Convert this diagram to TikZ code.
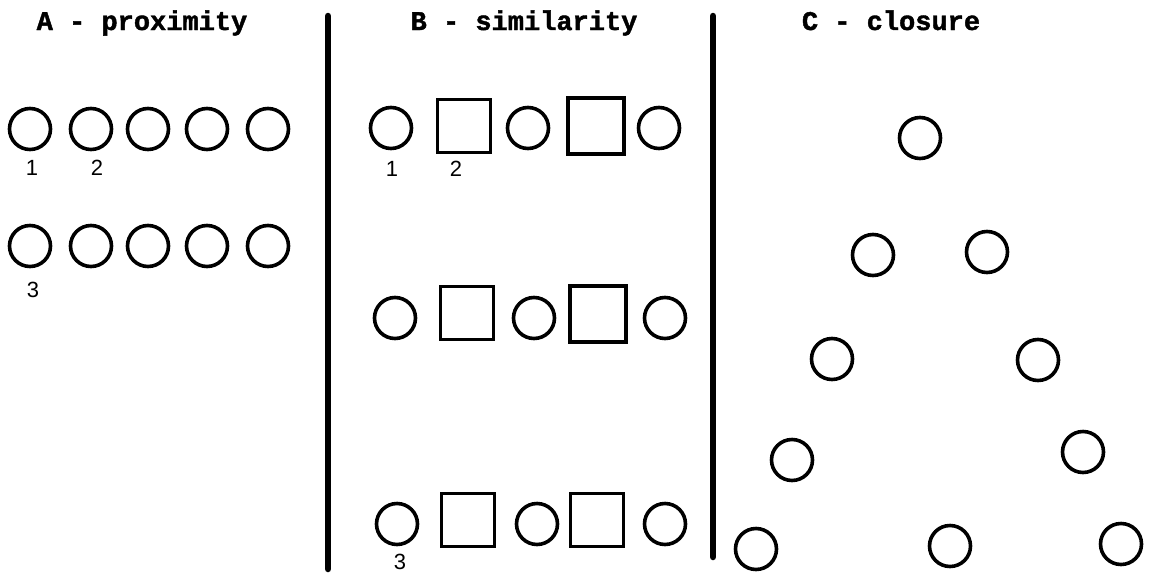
\documentclass[tikz,border=0pt]{standalone}
\usepackage{fontspec}
\newfontfamily\hdrfont{Liberation Mono}[BoldFeatures={FakeBold=1.5}]
\newfontfamily\numfont{Liberation Sans}
\begin{document}
\begin{tikzpicture}[x=1pt,y=-1pt,
  circ/.style={draw,circle,line width=3.6pt,minimum size=41pt,inner sep=0pt},
  sq/.style={draw,rectangle,line width=3.6pt,minimum size=53pt,inner sep=0pt},
  hdr/.style={font=\hdrfont\bfseries\fontsize{27}{27}\selectfont,inner sep=0pt,anchor=base},
  num/.style={font=\numfont\fontsize{22}{22}\selectfont,inner sep=0pt},
  divider/.style={line width=6.5pt,line cap=round}]
\useasboundingbox (0,0) rectangle (1153,573);
% headers
\node[hdr] (hA) at (142,30) {A - proximity};
\node[hdr] (hB) at (524,30) {B - similarity};
\node[hdr] (hC) at (891,30) {C - closure};
% dividers
\coordinate (d1t) at (328,16); \coordinate (d1b) at (328,569);
\coordinate (d2t) at (713,16); \coordinate (d2b) at (713,557);
\draw[divider] (d1t) -- (d1b);
\draw[divider] (d2t) -- (d2b);
% A - proximity
\foreach \x [count=\i] in {30,91,148,207,268} {
  \node[circ] (a1\i) at (\x,129) {};
  \node[circ] (a2\i) at (\x,246) {};
}
\node[num] (la1) at (32,168) {1};
\node[num] (la2) at (97,168) {2};
\node[num] (la3) at (33,290) {3};
% B - similarity
\node[circ] (b11) at (391,128) {};
\node[sq]   (b12) at (464,126) {};
\node[circ] (b13) at (528,128) {};
\node[sq,minimum size=56pt] (b14) at (596,126) {};
\node[circ] (b15) at (659,128) {};
\node[circ] (b21) at (395,318) {};
\node[sq]   (b22) at (467,313) {};
\node[circ] (b23) at (534,318) {};
\node[sq,minimum size=56pt] (b24) at (598,314) {};
\node[circ] (b25) at (665,318) {};
\node[circ] (b31) at (397,524) {};
\node[sq]   (b32) at (468,520) {};
\node[circ] (b33) at (537,524) {};
\node[sq]   (b34) at (597,520) {};
\node[circ] (b35) at (665,524) {};
\node[num] (lb1) at (392,169) {1};
\node[num] (lb2) at (456,169) {2};
\node[num] (lb3) at (400,562) {3};
% C - closure
\node[circ] (c1) at (920,138) {};
\node[circ] (c2) at (873,255) {};
\node[circ] (c3) at (987,252) {};
\node[circ] (c4) at (832,359) {};
\node[circ] (c5) at (1038,360) {};
\node[circ] (c6) at (792,460) {};
\node[circ] (c7) at (1083,452) {};
\node[circ] (c8) at (756,549) {};
\node[circ] (c9) at (950,546) {};
\node[circ] (c10) at (1121,544) {};
\end{tikzpicture}
\end{document}
